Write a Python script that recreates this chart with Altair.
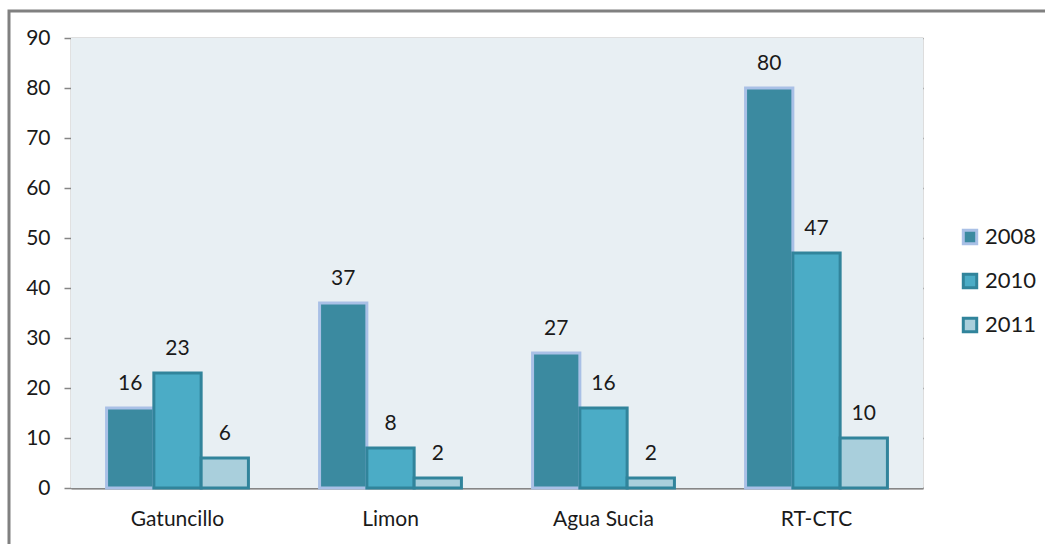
import altair as alt
import pandas as pd

categories = ["Gatuncillo", "Limon", "Agua Sucia", "RT-CTC"]
years = ["2008", "2010", "2011"]
values_2008 = [16, 37, 27, 80]
values_2010 = [23, 8, 16, 47]
values_2011 = [6, 2, 2, 10]

fills = ["#3B8AA0", "#4BACC6", "#A9CFDC"]
strokes = ["#A9C0E6", "#31849B", "#31849B"]

rows = []
for yr, vals in zip(years, [values_2008, values_2010, values_2011]):
    for c, v in zip(categories, vals):
        rows.append({"site": c, "year": yr, "value": v})
df = pd.DataFrame(rows)

FONT = "Lato"
W, H = 852, 450

x = alt.X("site:N", sort=categories, title=None,
          scale=alt.Scale(paddingInner=0.334, paddingOuter=0.167),
          axis=alt.Axis(labelAngle=0, labelFontSize=21, labelFont=FONT, labelColor="#1a1a1a",
                        labelFontWeight="normal",
                        labelPadding=20, ticks=False, domainColor="#868686", domainWidth=2))
xo = alt.XOffset("year:N", sort=years, scale=alt.Scale(paddingInner=0, paddingOuter=0))
y = alt.Y("value:Q", title=None,
          scale=alt.Scale(domain=[0, 90], nice=False),
          axis=alt.Axis(values=list(range(0, 91, 10)), labelFontSize=21, labelFont=FONT,
                        labelColor="#1a1a1a", labelPadding=14, tickSize=7, tickColor="#868686",
                        tickWidth=1.5, gridColor="#808080", gridWidth=1.6,
                        domainColor="#868686", domainWidth=1.5))

bars = alt.Chart(df).mark_bar(strokeWidth=3).encode(
    x=x, xOffset=xo, y=y,
    fill=alt.Fill("year:N", sort=years, scale=alt.Scale(domain=years, range=fills),
                  legend=alt.Legend(title=None, orient="none", legendX=888, legendY=188,
                                    symbolType="square", symbolSize=180, symbolStrokeWidth=3,
                                    labelFontSize=22, labelFont=FONT, labelColor="#1a1a1a",
                                    rowPadding=18, labelOffset=4)),
    stroke=alt.Stroke("year:N", sort=years, scale=alt.Scale(domain=years, range=strokes)),
)

labels = alt.Chart(df).mark_text(fontSize=21, font=FONT, color="#1a1a1a",
                                 baseline="alphabetic", dy=-18).encode(
    x=x, xOffset=xo, y=y, text="value:Q")

one = pd.DataFrame({"a": [0]})
frame = alt.Chart(one).mark_rect(
    fill=None, stroke="#808080", strokeWidth=3).encode(
    x=alt.value(-62), x2=alt.value(1100), y=alt.value(-27), y2=alt.value(600))

plotbg = alt.Chart(one).mark_rect(fill="#E8EFF3").encode(
    x=alt.value(0), x2=alt.value(W), y=alt.value(0), y2=alt.value(H))

chart = alt.layer(frame, plotbg, bars, labels).properties(
    width=W, height=H,
    autosize=alt.AutoSizeParams(type="none"),
    padding={"left": 71, "top": 38, "right": 122, "bottom": 56},
).configure_view(strokeWidth=0).configure(background="white")

chart.save("out.html", embed_options={"renderer": "svg", "actions": False})
